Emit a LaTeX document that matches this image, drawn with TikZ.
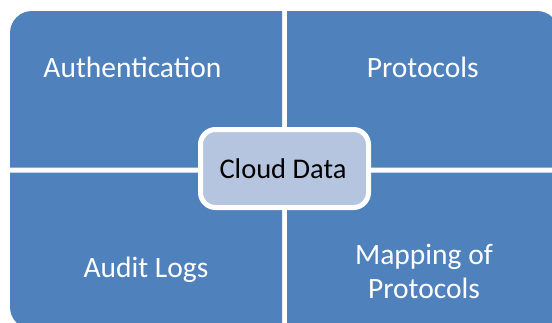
\documentclass[tikz,border=0pt]{standalone}
\usepackage{fontspec}
\setmainfont{Carlito}
\definecolor{quadblue}{RGB}{79,129,189}
\definecolor{centerfill}{RGB}{181,196,223}
\begin{document}
\begin{tikzpicture}[x=1pt,y=-1pt,
  quad/.style={fill=quadblue},
  quadtext/.style={text=white,font=\fontsize{29.5}{34}\selectfont,inner sep=0pt,anchor=base},
  centerbox/.style={draw=white,line width=5pt,fill=centerfill,rounded corners=15pt}]
\useasboundingbox (0,0) rectangle (552,322);
\begin{scope}
\clip (0,0) rectangle (552,322);
% top-left
\fill[quad] (282,167.5) -- (10,167.5) [rounded corners=22pt] -- (10,11) [sharp corners] -- (282,11) -- cycle;
% top-right
\fill[quad] (287,167.5) -- (287,11) [rounded corners=22pt] -- (559,11) [sharp corners] -- (559,167.5) -- cycle;
% bottom-left
\fill[quad] (282,172.5) -- (10,172.5) [rounded corners=22pt] -- (10,329) [sharp corners] -- (282,329) -- cycle;
% bottom-right
\fill[quad] (287,172.5) -- (287,329) [rounded corners=22pt] -- (559,329) [sharp corners] -- (559,172.5) -- cycle;
\end{scope}
\draw[centerbox] (200.5,129.5) rectangle (368.5,207.5);
\node[quadtext] (auth) at (132.4,77.3) {Authentication};
\node[quadtext] (proto) at (422.8,77.3) {Protocols};
\node[quadtext] (audit) at (146,277.3) {Audit Logs};
\node[quadtext,anchor=center,align=center] (mapping) at (424,271.5) {Mapping of\\Protocols};
\node[quadtext,text=black,font=\fontsize{28.5}{34}\selectfont] (cloud) at (283,178.3) {Cloud Data};
\end{tikzpicture}
\end{document}
